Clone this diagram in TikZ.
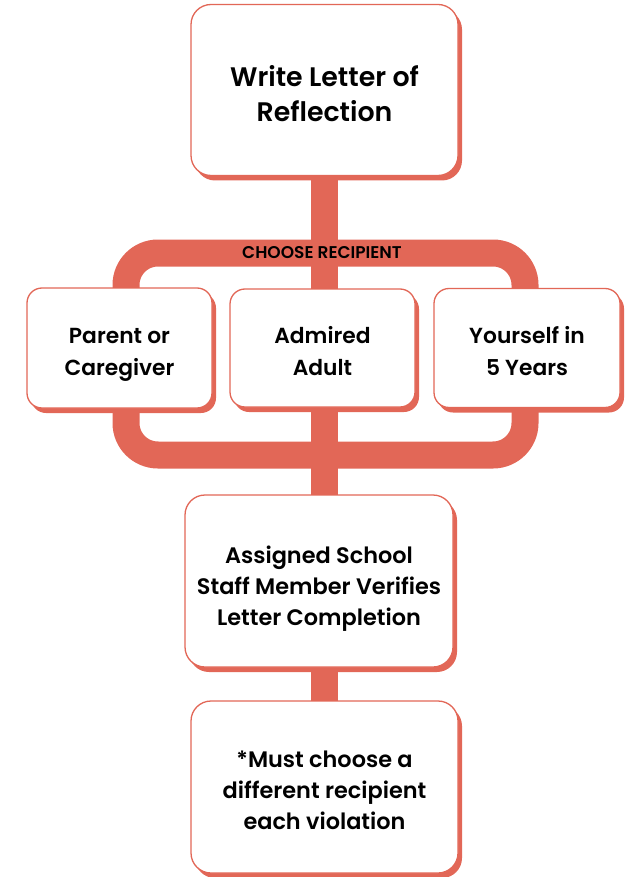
\documentclass[tikz,border=0pt]{standalone}
\usepackage{fontspec}
\setmainfont{Poppins}[BoldFont={Poppins SemiBold}]
\usetikzlibrary{shadows}
\definecolor{coral}{HTML}{E26757}
\newcommand{\boxlines}[2]{\raisebox{#1}[\height][\depth]{\begin{tabular}{@{}c@{}}#2\end{tabular}}}
\begin{document}
\begin{tikzpicture}[x=1pt,y=-1pt,
  box/.style={draw=coral, line width=1.3pt, fill=white, align=center, inner sep=0pt,
    text=black, rounded corners=#1,
    drop shadow={shadow xshift=4pt, shadow yshift=-5pt, fill=coral, opacity=1}},
  box/.default=20pt,
  band/.style={draw=coral, line width=27pt},
  big/.style={font=\fontsize{26.8}{35}\selectfont\bfseries},
  mid/.style={font=\fontsize{21.8}{32}\selectfont\bfseries},
  small/.style={font=\fontsize{22.4}{31}\selectfont\bfseries}]
\useasboundingbox (0,0) rectangle (628,877);
% spine and loop
\coordinate (spinetop) at (324.5,170);
\coordinate (spinebot) at (324.5,705);
\draw[band] (spinetop) -- (spinebot);
\node (loop) [band, rounded corners=32pt, minimum width=399pt, minimum height=202pt, inner sep=0pt] at (325.5,354) {};
\node (choose) at (322,253) [font=\fontsize{17}{17}\selectfont\bfseries, text=black] {CHOOSE RECIPIENT};
% boxes
\node (top) [box, big, minimum width=267pt, minimum height=171pt] at (324.5,90) {\boxlines{-7.5pt}{Write Letter of\\Reflection}};
\node (parent) [box=15pt, mid, minimum width=185pt, minimum height=120pt] at (119.5,348) {\boxlines{-5pt}{Parent or\\Caregiver}};
\node (admired) [box=15pt, mid, minimum width=185pt, minimum height=118pt] at (322.5,348) {\boxlines{-5pt}{Admired\\Adult}};
\node (yourself) [box=15pt, mid, minimum width=186pt, minimum height=119pt] at (527,348) {\boxlines{-5pt}{Yourself in\\5 Years}};
\node (assigned) [box, small, minimum width=268pt, minimum height=172pt] at (319,581) {\boxlines{-7pt}{Assigned School\\Staff Member Verifies\\Letter Completion}};
\node (bottom) [box, small, minimum width=267pt, minimum height=172pt] at (324.5,787) {\boxlines{-5pt}{*Must choose a\\different recipient\\each violation}};
\end{tikzpicture}
\end{document}
